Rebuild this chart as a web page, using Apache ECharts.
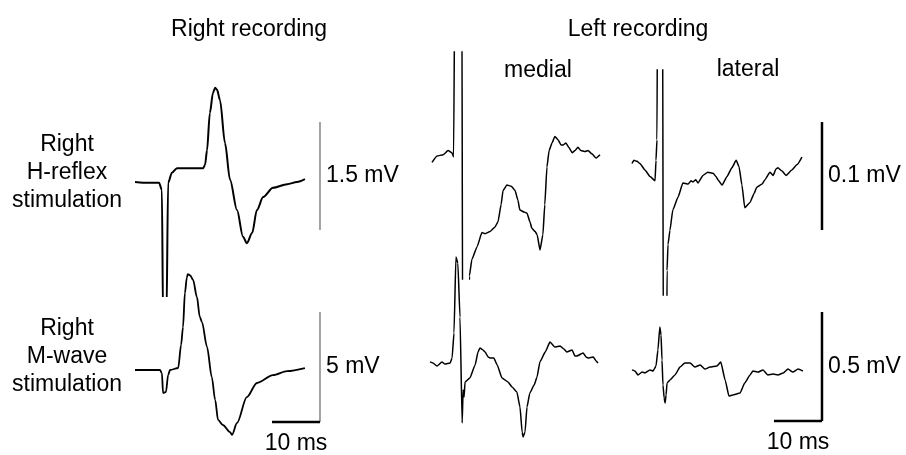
<!DOCTYPE html>
<html>
<head>
<meta charset="utf-8">
<script src="https://cdn.jsdelivr.net/npm/echarts@6/dist/echarts.min.js"></script>
<style>
  html, body { margin: 0; padding: 0; background: #fff; }
  #chart { width: 906px; height: 455px; }
</style>
</head>
<body>
<div id="chart"></div>
<script>
// Evoked responses. Time in ms from sweep start, amplitude in mV from baseline.

// Right recording, H-reflex stimulation (stimulus artefact saturates)
const rightHTime = [0, 1.7, 5.0, 5.6, 5.85, 6.55, 6.9, 7.7, 8.75, 11.5, 14.2, 14.6, 15.0, 15.6, 16.25, 16.7, 17.1, 17.7, 18.75, 19.8, 21.25, 22.5, 23.3, 24.4, 25.4, 26.7, 28.75, 31.7, 33.75, 35.4];
const rightHVolt = [0, -0.01, -0.01, -0.11, -1.9, -1.9, -0.01, 0.13, 0.19, 0.19, 0.19, 0.24, 0.44, 0.96, 1.24, 1.31, 1.28, 1.14, 0.54, 0.03, -0.39, -0.76, -0.85, -0.71, -0.39, -0.21, -0.08, -0.03, 0, 0.04];

// Right recording, M-wave stimulation
const rightMTime = [0, 5.2, 5.6, 5.85, 6.45, 6.9, 7.3, 9.0, 9.6, 10.0, 10.4, 10.8, 11.0, 11.5, 12.1, 12.9, 13.5, 13.95, 15.0, 16.0, 16.7, 17.3, 18.3, 19.8, 20.2, 21.25, 23.3, 25.4, 28.75, 31.7, 35.4];
const rightMVolt = [0, 0, -0.14, -1.05, -1.0, -0.23, 0, 0.09, 1.14, 1.95, 3.5, 4.2, 4.36, 4.3, 4.09, 3.32, 2.41, 2.18, 1.05, -0.32, -1.36, -2.27, -2.5, -2.82, -2.95, -2.41, -1.23, -0.59, -0.23, -0.05, 0.09];

// Left recording, medial, H-reflex stimulation (stimulus artefact saturates)
const medialHTime = [0, 1.05, 2.3, 3.35, 4.15, 4.5, 4.8, 5.0, 6.2, 6.4, 7.6, 7.8, 8.3, 9.4, 10.4, 11.05, 12.1, 13.1, 13.75, 14.4, 14.8, 15.6, 16.5, 17.3, 17.9, 18.3, 19.2, 19.8, 20.4, 20.8, 21.5, 21.9, 22.5, 23.1, 23.5, 23.95, 24.4, 25.0, 25.6, 26.25, 26.9, 27.3, 27.9, 28.5, 29.2, 29.8, 30.4, 31.0, 31.9, 32.5, 33.3, 34.2, 35.0];
const medialHVolt = [-0.005, 0.001, 0.002, 0.006, 0.004, 0, 0.2, 0.2, 0.2, -0.2, -0.2, -0.110, -0.095, -0.083, -0.070, -0.071, -0.069, -0.065, -0.060, -0.044, -0.031, -0.026, -0.027, -0.031, -0.040, -0.049, -0.051, -0.052, -0.060, -0.066, -0.069, -0.072, -0.086, -0.072, -0.044, -0.009, 0.006, 0.013, 0.019, 0.016, 0.011, 0.011, 0.013, 0.009, 0.004, 0.006, 0.009, 0.006, 0.005, 0.006, 0.003, -0.001, 0.002];

// Left recording, medial, M-wave stimulation
const medialMTime = [0, 0.6, 1.45, 2.5, 3.1, 4.2, 4.6, 5.0, 5.4, 5.8, 6.25, 6.7, 6.9, 7.1, 7.3, 8.3, 9.4, 10.0, 10.4, 11.0, 11.5, 12.1, 12.5, 13.3, 14.0, 15.0, 16.25, 17.1, 18.1, 18.75, 19.2, 19.4, 19.8, 20.2, 20.8, 21.7, 22.3, 22.9, 24.0, 25.0, 26.0, 27.1, 27.9, 28.5, 29.6, 30.2, 30.6, 31.9, 32.5, 32.9, 34.0, 34.6, 35.0];
const medialMVolt = [0.005, 0, -0.014, 0.005, -0.005, 0, 0.023, 0.138, 0.486, 0.459, 0.211, -0.275, -0.124, -0.156, -0.087, -0.069, -0.009, 0.050, 0.069, 0.060, 0.050, 0.028, 0.023, 0.023, -0.009, -0.069, -0.087, -0.110, -0.133, -0.202, -0.317, -0.339, -0.317, -0.202, -0.138, -0.101, -0.064, 0.005, 0.050, 0.096, 0.073, 0.078, 0.064, 0.050, 0.060, 0.032, 0.032, 0.046, 0.028, 0.023, 0.028, 0.009, 0];

// Left recording, lateral, H-reflex stimulation (stimulus artefact saturates)
const lateralHTime = [0, 0.4, 1.05, 1.65, 2.7, 3.75, 4.8, 5.0, 5.2, 5.35, 6.35, 6.55, 7.2, 7.3, 7.5, 7.9, 8.5, 9.6, 10.6, 11.7, 12.3, 12.7, 13.3, 13.75, 14.8, 15.8, 16.9, 17.5, 17.9, 18.75, 19.8, 20.8, 21.7, 22.3, 22.9, 23.5, 24.6, 25.4, 26.0, 27.1, 27.7, 28.75, 29.4, 30.0, 30.4, 31.25, 32.1, 33.3, 34.4, 35.4];
const lateralHVolt = [0.006, 0.009, 0.008, 0.006, 0, -0.006, -0.010, 0.009, 0.028, 0.2, 0.2, -0.2, -0.2, -0.093, -0.069, -0.056, -0.037, -0.025, -0.012, -0.013, -0.010, -0.011, -0.009, -0.012, -0.005, -0.002, -0.003, -0.006, -0.009, -0.014, -0.006, 0.002, 0.009, 0.003, -0.014, -0.035, -0.030, -0.022, -0.016, -0.013, -0.009, -0.002, -0.005, 0.001, 0.002, -0.001, -0.005, 0, 0.005, 0.012];

// Left recording, lateral, M-wave stimulation
const lateralMTime = [0, 0.6, 1.25, 2.1, 2.7, 3.75, 4.4, 5.0, 5.4, 5.8, 6.05, 6.25, 6.45, 6.7, 6.9, 7.1, 7.3, 7.9, 8.95, 10.0, 11.0, 12.1, 13.1, 14.2, 15.2, 16.25, 17.7, 18.5, 19.4, 20.2, 21.0, 22.5, 23.5, 24.6, 25.2, 26.25, 27.3, 28.3, 29.4, 30.4, 31.5, 32.5, 33.5, 34.6, 35.6];
const lateralMVolt = [0.005, 0, -0.018, -0.005, -0.009, 0.005, 0, 0.023, 0.096, 0.202, 0.165, 0.050, -0.064, -0.124, -0.147, -0.110, -0.055, -0.041, -0.018, 0.018, 0.037, 0.037, 0.018, 0.028, 0.009, 0.018, 0.023, 0.041, -0.041, -0.115, -0.110, -0.101, -0.055, -0.018, 0, -0.005, 0.005, -0.018, -0.014, -0.018, -0.009, 0.009, -0.005, 0.009, 0];

// Calibration bars
const voltScales = [1.5, 5, 0.1, 0.5];   // mV: right H, right M, left H, left M
const timeScale = 10;                    // ms

// Text
const columnTitles = ['Right recording', 'Left recording'];
const muscleLabels = ['medial', 'lateral'];
const rowLabelsH = ['Right', 'H-reflex', 'stimulation'];
const rowLabelsM = ['Right', 'M-wave', 'stimulation'];

// ---- layout ----
const FONT = '"Liberation Sans", Arial, Helvetica, sans-serif';
const FONT_SIZE = 23;
const PX_PER_MS = 4.8;
const T_MIN = -1, T_MAX = 45;

const panels = [
  { time: rightHTime,   volt: rightHVolt,   x0: 135, y0: 182, pxPerMv: 72,   top: 60,  bottom: 296, lw: 2, smooth: 0.3,
    bar: { t: 38.54, lo: -0.667,  size: voltScales[0], color: '#858585', width: 1.5 } },
  { time: rightMTime,   volt: rightMVolt,   x0: 135, y0: 370, pxPerMv: 22,   top: 250, bottom: 445, lw: 1.8, smooth: 0.3,
    bar: { t: 38.54, lo: -2.364,  size: voltScales[1], color: '#858585', width: 1.5, withTime: true } },
  { time: medialHTime,  volt: medialHVolt,  x0: 432, y0: 157, pxPerMv: 1080, top: 52,  bottom: 279, lw: 1.5, smooth: 0.15 },
  { time: medialMTime,  volt: medialMVolt,  x0: 430, y0: 363, pxPerMv: 218,  top: 240, bottom: 445, lw: 1.5, smooth: 0.15 },
  { time: lateralHTime, volt: lateralHVolt, x0: 632, y0: 170, pxPerMv: 1080, top: 70,  bottom: 295, lw: 1.5, smooth: 0.15,
    bar: { t: 39.58, lo: -0.0556, size: voltScales[2], color: '#000', width: 2.5 } },
  { time: lateralMTime, volt: lateralMVolt, x0: 632, y0: 371, pxPerMv: 218,  top: 290, bottom: 445, lw: 1.5, smooth: 0.15,
    bar: { t: 39.58, lo: -0.229,  size: voltScales[3], color: '#000', width: 2.5, withTime: true } }
];

const grid = [], xAxis = [], yAxis = [], series = [];

function labelPoint(i, point, text, position, distance) {
  return {
    type: 'scatter', xAxisIndex: i, yAxisIndex: i, silent: true, clip: false,
    symbolSize: 0, itemStyle: { color: '#000' },
    data: [point],
    label: {
      show: true, position: position, distance: distance, formatter: text,
      color: '#000', opacity: 1, fontSize: FONT_SIZE, fontFamily: FONT,
      textBorderWidth: 0
    }
  };
}

panels.forEach((p, i) => {
  grid.push({
    left: p.x0 + T_MIN * PX_PER_MS,
    top: p.top,
    width: (T_MAX - T_MIN) * PX_PER_MS,
    height: p.bottom - p.top
  });
  xAxis.push({ type: 'value', gridIndex: i, min: T_MIN, max: T_MAX, show: false });
  yAxis.push({
    type: 'value', gridIndex: i, show: false,
    min: (p.y0 - p.bottom) / p.pxPerMv,
    max: (p.y0 - p.top) / p.pxPerMv
  });

  series.push({
    type: 'line', xAxisIndex: i, yAxisIndex: i,
    data: p.time.map((t, k) => [t, p.volt[k]]),
    showSymbol: false, symbol: 'none', clip: true, silent: true,
    smooth: p.smooth, smoothMonotone: 'x',
    lineStyle: { color: '#000', width: p.lw, join: 'round' }
  });

  if (p.bar) {
    const b = p.bar;
    series.push({
      type: 'line', xAxisIndex: i, yAxisIndex: i, symbol: 'none', clip: false, silent: true,
      data: [[b.t, b.lo], [b.t, b.lo + b.size]],
      lineStyle: { color: b.color, width: b.width, cap: 'butt' }
    });
    series.push(labelPoint(i, [b.t, b.lo + b.size / 2], b.size + ' mV', 'right', 6));
    if (b.withTime) {
      series.push({
        type: 'line', xAxisIndex: i, yAxisIndex: i, symbol: 'none', clip: false, silent: true,
        data: [[b.t - timeScale, b.lo], [b.t, b.lo]],
        lineStyle: { color: '#000', width: 2.5, cap: 'butt' }
      });
      series.push(labelPoint(i, [b.t - timeScale / 2, b.lo], timeScale + ' ms', 'bottom', 10));
    }
  }
});

function txt(str, x, y) {
  return {
    type: 'text', x: x, y: y, silent: true,
    style: { text: str, fill: '#000', font: FONT_SIZE + 'px ' + FONT, align: 'center', verticalAlign: 'middle' }
  };
}

const graphic = [
  txt(columnTitles[0], 249, 30),
  txt(columnTitles[1], 638, 30),
  txt(muscleLabels[0], 538, 71),
  txt(muscleLabels[1], 748, 70)
];
rowLabelsH.forEach((s, k) => graphic.push(txt(s, 67, 145 + 28 * k)));
rowLabelsM.forEach((s, k) => graphic.push(txt(s, 67, 329 + 28 * k)));

const chart = echarts.init(document.getElementById('chart'), null, { renderer: 'canvas' });
chart.setOption({
  animation: false,
  backgroundColor: '#fff',
  grid, xAxis, yAxis, series, graphic
});
</script>
</body>
</html>
